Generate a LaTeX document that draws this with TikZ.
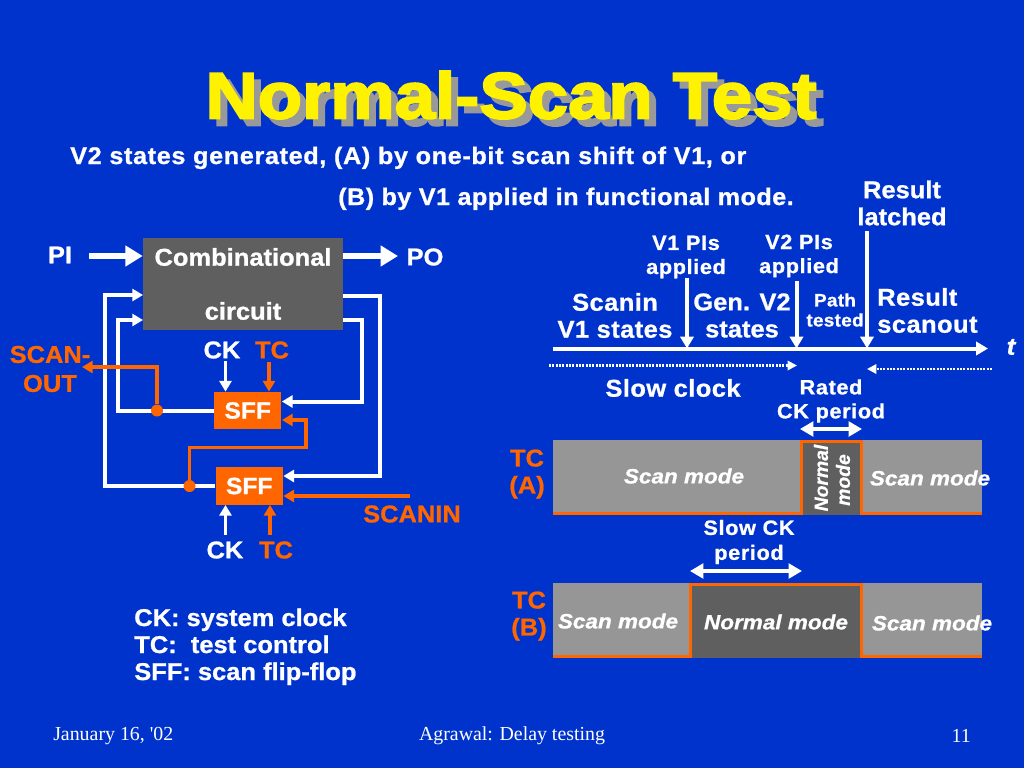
\documentclass[tikz,border=0pt]{standalone}
\usepackage{fontspec}
\usetikzlibrary{arrows.meta}
\newfontfamily\hb{Liberation Sans Bold}[FakeBold=0.9,FakeStretch=1.05]
\newfontfamily\hbs{Liberation Sans Bold}[FakeBold=0.9,FakeStretch=1.05,LetterSpace=1.8]
\newfontfamily\hbl{Liberation Sans Bold}[FakeBold=0.9,FakeStretch=1.05,LetterSpace=2.7]
\newfontfamily\hbw{Liberation Sans Bold}[FakeBold=0.9,FakeStretch=1.05,LetterSpace=3]
\newfontfamily\hbi{Liberation Sans Bold Italic}[FakeBold=0.9,FakeStretch=1.09]
\newfontfamily\hbir{Liberation Sans Bold Italic}[FakeBold=0.7]
\newfontfamily\hbt{Liberation Sans Bold}[FakeBold=3,FakeStretch=1.11]
\newfontfamily\tms{Liberation Serif}
\definecolor{bg}{HTML}{0033CC}
\definecolor{org}{HTML}{FF6600}
\definecolor{dk}{HTML}{5F5F5F}
\definecolor{gy}{HTML}{969696}
\definecolor{shad}{HTML}{999999}
\tikzset{
 x=0.75pt,y=-0.75pt,
 lbl/.style={inner sep=0pt,align=center,text=white,font=\hb\fontsize{18.2pt}{20.25pt}\selectfont},
 olbl/.style={lbl,text=org},
 wlbl/.style={lbl,font=\hbs\fontsize{18.2pt}{20.25pt}\selectfont},
 sublbl/.style={lbl,font=\hbs\fontsize{18pt}{20.25pt}\selectfont},
 sml/.style={lbl,font=\hbw\fontsize{15.5pt}{18pt}\selectfont},
 ital/.style={inner sep=0pt,align=center,text=white,font=\hbi\fontsize{15.5pt}{16pt}\selectfont},
 italr/.style={inner sep=0pt,align=center,text=white,font=\hbir\fontsize{14.5pt}{16pt}\selectfont},
 ttl/.style={inner sep=0pt,font=\hbt\fontsize{49pt}{52pt}\selectfont},
 foot/.style={inner sep=0pt,text=white,font=\tms\fontsize{14.9pt}{16pt}\selectfont},
 wirew/.style={draw=white,line width=3pt,-{Triangle[length=8pt,width=9pt]}},
 wireo/.style={draw=org,line width=2.6pt,-{Triangle[length=8pt,width=9pt]}},
 fat/.style={draw=white,line width=4pt,-{Triangle[length=13pt,width=15pt]}},
 tline/.style={draw=white,line width=3pt,-{Triangle[length=9pt,width=10pt]}},
 dots/.style={draw=white,line width=1.6pt,dash pattern=on 1.5pt off 1pt,-{Triangle[length=7pt,width=7pt]}},
 dbl/.style={draw=white,line width=2.4pt,{Triangle[length=10pt,width=11pt]}-{Triangle[length=10pt,width=11pt]}},
 sffbox/.style={fill=org,text=white,inner sep=0pt,font=\hb\fontsize{17.6pt}{20pt}\selectfont,minimum width=50.5pt,minimum height=28pt},
 dot/.style={circle,fill=org,inner sep=0pt,minimum size=9pt},
 step1/.style={draw=org,line width=2.6pt},
}
\begin{document}
\begin{tikzpicture}
\useasboundingbox (0,0) rectangle (1024,768);
\fill[bg] (0,0) rectangle (1024,768);
% title
\node[ttl,text=shad] (titleshadow) at (518,102) {Normal-Scan Test};
\node[ttl,text=yellow] (title) at (511,95) {Normal-Scan Test};
\node[sublbl,font=\hbl\fontsize{18pt}{20.25pt}\selectfont,anchor=base west] (sub1) at (70,164) {V2 states generated, (A) by one-bit scan shift of V1, or};
\node[sublbl,anchor=base west] (sub2) at (338,205) {(B) by V1 applied in functional mode.};
% circuit
\node[fill=dk,minimum width=150pt,minimum height=69pt,inner sep=0pt] (comb) at (243,284) {};
\node[lbl] (combt) at (243,257) {Combinational};
\node[lbl] (circ) at (243,311) {circuit};
\node[sffbox] (sff1) at (247.7,410.5) {SFF};
\node[sffbox] (sff2) at (249.2,486) {SFF};
\node[lbl] (pi) at (60,255) {PI};
\node[lbl] (po) at (425,257) {PO};
\coordinate (piend) at (89,256);
\coordinate (poend) at (398,256);
\draw[fat] (piend) -- (comb.west |- piend);
\draw[fat] (comb.east |- poend) -- (poend);
\coordinate (cl1) at (143,295);
\coordinate (cl2) at (143,320);
\coordinate (cr1) at (343,295.5);
\coordinate (cr2) at (343,320);
\coordinate (sr1) at (281.9,401.5);
\coordinate (sr2) at (283.4,476);
\coordinate (sr1b) at (282,420);
\coordinate (sr2b) at (283.4,496);
\coordinate (c1) at (157,410.5);
\coordinate (c2) at (189.5,486);
\draw[wirew] (sff2.west) -- (105,486) -- (105,295) -- (cl1);
\draw[wirew] (sff1.west) -- (117.5,410.5) -- (117.5,320) -- (cl2);
\draw[wirew] (cr1) -- (380,295.5) -- (380,476) -- (sr2);
\draw[wirew] (cr2) -- (362,320) -- (362,401.5) -- (sr1);
\node[dot] (j1) at (c1) {};
\node[dot] (j2) at (c2) {};
\node[olbl] (scanout) at (50,369) {SCAN-\\[1.5pt]OUT};
\coordinate (soend) at (82,367);
\draw[wireo] (j1) -- (157,367) -- (soend);
\draw[wireo] (j2) -- (189.5,447.5) -- (306,447.5) -- (306,420) -- (sr1b);
\coordinate (siend) at (410,496);
\draw[wireo] (siend) -- (sr2b);
\node[olbl] (scanin) at (412,514) {SCANIN};
\node[lbl] (ck1) at (222,350) {CK};
\node[olbl] (tc1) at (272,350) {TC};
\node[lbl] (ck2) at (225,550) {CK};
\node[olbl] (tc2) at (276,550) {TC};
\coordinate (a1) at (225.5,361); \coordinate (a2) at (269,362);
\coordinate (a3) at (225.5,535); \coordinate (a4) at (270,535);
\draw[wirew,line width=2.6pt] (a1) -- (a1 |- sff1.north);
\draw[wireo] (a2) -- (a2 |- sff1.north);
\draw[wirew,line width=2.6pt] (a3) -- (a3 |- sff2.south);
\draw[wireo] (a4) -- (a4 |- sff2.south);
\node[lbl,anchor=base west] (leg1) at (134,626) {CK: system clock};
\node[lbl,anchor=base west] (leg2) at (134,653) {TC:\ \ test control};
\node[lbl,anchor=base west] (leg3) at (134,680) {SFF: scan flip-flop};
% timeline
\coordinate (t0) at (553,348.5);
\coordinate (t1) at (988,348.5);
\node[lbl,font=\hbi\fontsize{18pt}{20pt}\selectfont] (tlab) at (1011,347) {t};
\draw[tline] (t0) -- (t1);
\coordinate (v1s) at (687,278); \coordinate (v1e) at (687,348.5);
\coordinate (v2s) at (796.5,281); \coordinate (v2e) at (796.5,348.5);
\coordinate (rs) at (867,231); \coordinate (re) at (867,348.5);
\draw[tline] (v1s) -- (v1e);
\draw[tline] (v2s) -- (v2e);
\draw[tline] (rs) -- (re);
\node[lbl] (rl) at (902,203) {Result\\latched};
\node[sml] (v1l) at (686,257) {V1 PIs\\applied};
\node[sml] (v2l) at (799,256) {V2 PIs\\applied};
\node[wlbl] (scl) at (615,315.5) {Scanin\\V1 states};
\node[lbl] (gen) at (742,315.5) {Gen. V2\\states};
\node[lbl,font=\hbs\fontsize{13.5pt}{15pt}\selectfont] (path) at (835,310) {Path\\tested};
\node[wlbl,anchor=west,align=left] (rsc) at (877,310.5) {Result\\scanout};
\coordinate (d1s) at (549,365.5); \coordinate (d1e) at (797,365.5);
\coordinate (d2s) at (992,369); \coordinate (d2e) at (867,369);
\draw[dots] (d1s) -- (d1e);
\draw[dots] (d2s) -- (d2e);
\node[wlbl] (slow) at (673,388) {Slow clock};
\node[sml] (rated) at (831,401) {Rated\\CK period};
\coordinate (p1) at (800,429); \coordinate (p2) at (862,429);
\draw[dbl] (p1) -- (p2);
% TC A
\node[fill=gy,minimum width=321.75pt,minimum height=56pt,inner sep=0pt] (tca) at (767.5,477.5) {};
\node[fill=dk,minimum width=45pt,minimum height=55pt,inner sep=0pt] (tcan) at (831.5,478) {};
\coordinate (tca1) at (553,513.5); \coordinate (tca2) at (982,513.5);
\draw[step1] (tca1) -- (801.7,513.5) -- (801.7,441.5) -- (861.5,441.5) -- (861.5,513.5) -- (tca2);
\node[olbl] (tcal) at (527,474) {TC\\(A)};
\node[ital] (sa1) at (684,476) {Scan mode};
\node[ital] (sa2) at (930,478) {Scan mode};
\node[italr,rotate=90] (na1) at (821,478) {Normal};
\node[italr,rotate=90] (na2) at (843,480) {mode};
\node[sml] (slck) at (749,542) {Slow CK\\[.7pt]period};
\coordinate (q1) at (690,571); \coordinate (q2) at (802,571);
\draw[dbl] (q1) -- (q2);
% TC B
\node[fill=gy,minimum width=321.75pt,minimum height=56.25pt,inner sep=0pt] (tcb) at (767.5,620.5) {};
\node[fill=dk,minimum width=127pt,minimum height=55pt,inner sep=0pt] (tcbn) at (776,621) {};
\coordinate (tcb1) at (553,656.5); \coordinate (tcb2) at (982,656.5);
\draw[step1] (tcb1) -- (690.7,656.5) -- (690.7,584.5) -- (861.5,584.5) -- (861.5,656.5) -- (tcb2);
\node[olbl] (tcbl) at (529,616) {TC\\(B)};
\node[ital] (sb1) at (618,621) {Scan mode};
\node[ital] (sb2) at (776,622) {Normal mode};
\node[ital] (sb3) at (932,623) {Scan mode};
% footer
\node[foot,anchor=west] (f1) at (53,736) {January 16, '02};
\node[foot] (f2) at (512,736) {Agrawal: Delay testing};
\node[foot,anchor=east] (f3) at (971,736) {11};
\end{tikzpicture}
\end{document}
